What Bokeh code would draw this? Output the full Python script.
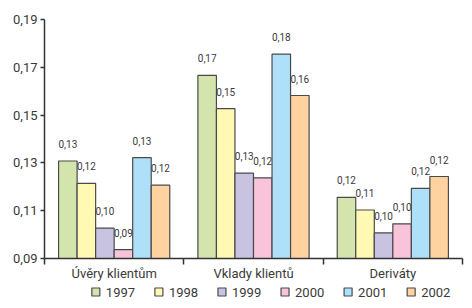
from bokeh.plotting import figure
from bokeh.layouts import column
from bokeh.models import (Range1d, FixedTicker, CustomJSTickFormatter,
                          ColumnDataSource)
from bokeh.core.properties import value
from bokeh.embed import file_html
from bokeh.resources import INLINE

categories = ["Úvěry klientům", "Vklady klientů", "Deriváty"]
years = ["1997", "1998", "1999", "2000", "2001", "2002"]
values_1997 = [0.1308, 0.1666, 0.1156]
values_1998 = [0.1214, 0.1527, 0.1103]
values_1999 = [0.1027, 0.1257, 0.1007]
values_2000 = [0.0937, 0.1237, 0.1045]
values_2001 = [0.1322, 0.1755, 0.1193]
values_2002 = [0.1207, 0.1582, 0.1243]
series = [values_1997, values_1998, values_1999, values_2000, values_2001, values_2002]
colors = ["#d3e5ad", "#fff9b3", "#c9c3e2", "#f9c3da", "#aee0f9", "#ffd3a0"]
y_ticks = [0.09, 0.11, 0.13, 0.15, 0.17, 0.19]

FONT = "Roboto"
TXT = "#3a3a3a"
EDGE = "#4a4a4a"

p = figure(width=464, height=283, output_backend="svg", toolbar_location=None,
           x_range=Range1d(0, len(categories)), y_range=Range1d(0.09, 0.19),
           min_border_left=44, min_border_right=2, min_border_top=19,
           min_border_bottom=23)
p.outline_line_color = None
p.xgrid.visible = False
p.ygrid.visible = False

bw = 0.133
for j, (yr, vals, c) in enumerate(zip(years, series, colors)):
    xs = [i + 0.5 + (j - 2.5) * bw for i in range(len(categories))]
    src = ColumnDataSource(dict(x=xs, top=vals,
                                lab=[f"{v:.2f}".replace(".", ",") for v in vals]))
    p.vbar(x="x", top="top", bottom=0.09, width=bw, source=src,
           fill_color=c, line_color=EDGE, line_width=1.2)
    p.text(x="x", y="top", text="lab", source=src, text_align="center",
           text_baseline="middle", y_offset=-17, text_font=value(FONT),
           text_font_size="10px", text_color=TXT)

xa = p.xaxis[0]
xa.ticker = FixedTicker(ticks=[i + 0.5 for i in range(len(categories))],
                        minor_ticks=list(range(len(categories) + 1)))
xa.formatter = CustomJSTickFormatter(args=dict(cats=categories),
                                     code="return cats[Math.floor(tick)]")
xa.major_tick_line_color = None
xa.major_tick_out = 0
xa.major_tick_in = 0
xa.minor_tick_out = 6
xa.minor_tick_in = 0
xa.minor_tick_line_color = "#333333"
xa.minor_tick_line_width = 1.5
xa.axis_line_color = "#333333"
xa.axis_line_width = 1.5
xa.major_label_standoff = 1
xa.major_label_text_font = FONT
xa.major_label_text_font_size = "13px"
xa.major_label_text_color = TXT

ya = p.yaxis[0]
ya.ticker = FixedTicker(ticks=y_ticks, minor_ticks=[])
ya.formatter = CustomJSTickFormatter(code="return tick.toFixed(2).replace('.', ',')")
ya.major_tick_out = 4
ya.major_tick_in = 0
ya.major_tick_line_color = "#333333"
ya.major_tick_line_width = 1.5
ya.minor_tick_line_color = None
ya.axis_line_color = "#333333"
ya.axis_line_width = 1.5
ya.major_label_standoff = 3
ya.major_label_text_font = FONT
ya.major_label_text_font_size = "13px"
ya.major_label_text_color = TXT

# legend strip: one square + label per year, placed by year index
step = 70.0
lg = figure(width=464, height=17, output_backend="svg", toolbar_location=None,
            x_range=Range1d(-57 / step, (464 - 57) / step), y_range=Range1d(0, 1),
            x_axis_type=None, y_axis_type=None,
            min_border_left=0, min_border_right=0, min_border_top=0,
            min_border_bottom=0)
lg.outline_line_color = None
lg.xgrid.visible = False
lg.ygrid.visible = False
lsrc = ColumnDataSource(dict(x=list(range(len(years))), y=[0.5] * len(years),
                             label=years, color=colors))
lg.scatter(x="x", y="y", source=lsrc, marker="square", size=8,
           fill_color="color", line_color=EDGE, line_width=1.2)
lg.text(x="x", y="y", text="label", source=lsrc, x_offset=10,
        text_align="left", text_baseline="middle", text_font=value(FONT),
        text_font_size="13px", text_color=TXT)

layout = column(p, lg, spacing=0)
open("out.html", "w").write(file_html(layout, INLINE))
